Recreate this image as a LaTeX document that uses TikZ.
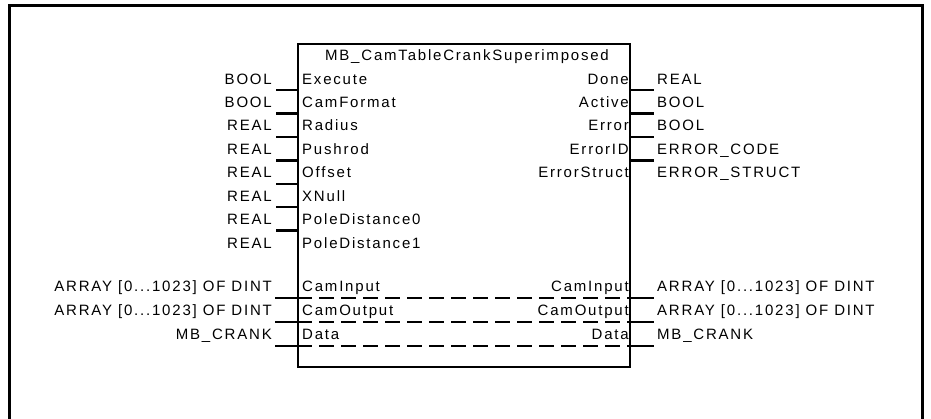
\documentclass[tikz,border=0pt]{standalone}
\usepackage{fontspec}
\setmainfont{Liberation Sans}
\newfontfamily\pinfont[LetterSpace=12]{Liberation Sans}
\usetikzlibrary{positioning,calc}

\begin{document}
\begin{tikzpicture}[x=1pt, y=-1pt,
    font=\pinfont\fontsize{15}{17}\selectfont,
    fblock/.style={rectangle, draw=black, line width=2pt, minimum width=332pt, minimum height=323pt, inner sep=0pt},
    fbtitle/.style={inner sep=0pt, anchor=base},
    pin/.style={inner sep=0pt, anchor=base west},
    pout/.style={inner sep=0pt, anchor=base east},
    tin/.style={inner sep=0pt, anchor=base east},
    tout/.style={inner sep=0pt, anchor=base west},
    stub/.style={line width=2.4pt},
    dline/.style={line width=2.4pt, dash pattern=on 15pt off 7pt},
    frame/.style={line width=3pt, draw=black},
]
\useasboundingbox (0,0) rectangle (931,418);
\draw[frame] (9.5,420) -- (9.5,5) -- (922,5) -- (922,420);

\node[fblock] (fb) at (464,205.5) {};
\node[fbtitle] (title) at (467,60) {MB\_CamTableCrankSuperimposed};

% inputs
\node[pin] (execute)   at (302,84)    {Execute};
\node[pin] (camformat) at (302,107.4) {CamFormat};
\node[pin] (radius)    at (302,130.9) {Radius};
\node[pin] (pushrod)   at (302,154.3) {Pushrod};
\node[pin] (offset)    at (302,177.7) {Offset};
\node[pin] (xnull)     at (302,201.1) {XNull};
\node[pin] (pole0)     at (302,224.6) {PoleDistance0};
\node[pin] (pole1)     at (302,248)   {PoleDistance1};
\node[pin] (caminl)    at (302,291)   {CamInput};
\node[pin] (camoutl)   at (302,315)   {CamOutput};
\node[pin] (datal)     at (302,339)   {Data};

% outputs
\node[pout] (done)     at (629,84)    {Done};
\node[pout] (active)   at (629,107.4) {Active};
\node[pout] (error)    at (629,130.9) {Error};
\node[pout] (errorid)  at (629,154.3) {ErrorID};
\node[pout] (errorst)  at (629,177.7) {ErrorStruct};
\node[pout] (caminr)   at (629,291)   {CamInput};
\node[pout] (camoutr)  at (629,315)   {CamOutput};
\node[pout] (datar)    at (629,339)   {Data};

% data types
\node[tin] (t1)  at (272,84)    {BOOL};
\node[tin] (t2)  at (272,107.4) {BOOL};
\node[tin] (t3)  at (272,130.9) {REAL};
\node[tin] (t4)  at (272,154.3) {REAL};
\node[tin] (t5)  at (272,177.7) {REAL};
\node[tin] (t6)  at (272,201.1) {REAL};
\node[tin] (t7)  at (272,224.6) {REAL};
\node[tin] (t8)  at (272,248)   {REAL};
\node[tin] (t9)  at (272,291)   {ARRAY [0...1023] OF DINT};
\node[tin] (t10) at (272,315)   {ARRAY [0...1023] OF DINT};
\node[tin] (t11) at (272,339)   {MB\_CRANK};

\node[tout] (u1) at (657,84)    {REAL};
\node[tout] (u2) at (657,107.4) {BOOL};
\node[tout] (u3) at (657,130.9) {BOOL};
\node[tout] (u4) at (657,154.3) {ERROR\_CODE};
\node[tout] (u5) at (657,177.7) {ERROR\_STRUCT};
\node[tout] (u6) at (657,291)   {ARRAY [0...1023] OF DINT};
\node[tout] (u7) at (657,315)   {ARRAY [0...1023] OF DINT};
\node[tout] (u8) at (657,339)   {MB\_CRANK};

% pin stubs
\foreach \p in {execute,camformat,radius,pushrod,offset,xnull,pole0}
    \draw[stub] ($(fb.west |- \p.base)+(0,6)$) -- ++(-21,0);
\foreach \p in {done,active,error,errorid}
    \draw[stub] ($(fb.east |- \p.base)+(0,6)$) -- ++(23,0);

% in-out pins
\foreach \p in {caminl,camoutl,datal} {
    \draw[stub] ($(fb.west |- \p.base)+(0,7)$) -- ++(-22,0);
    \draw[dline] ($(fb.west |- \p.base)+(0,7)$) -- ($(fb.east |- \p.base)+(0,7)$);
    \draw[stub] ($(fb.east |- \p.base)+(0,7)$) -- ++(23,0);
}
\end{tikzpicture}
\end{document}
